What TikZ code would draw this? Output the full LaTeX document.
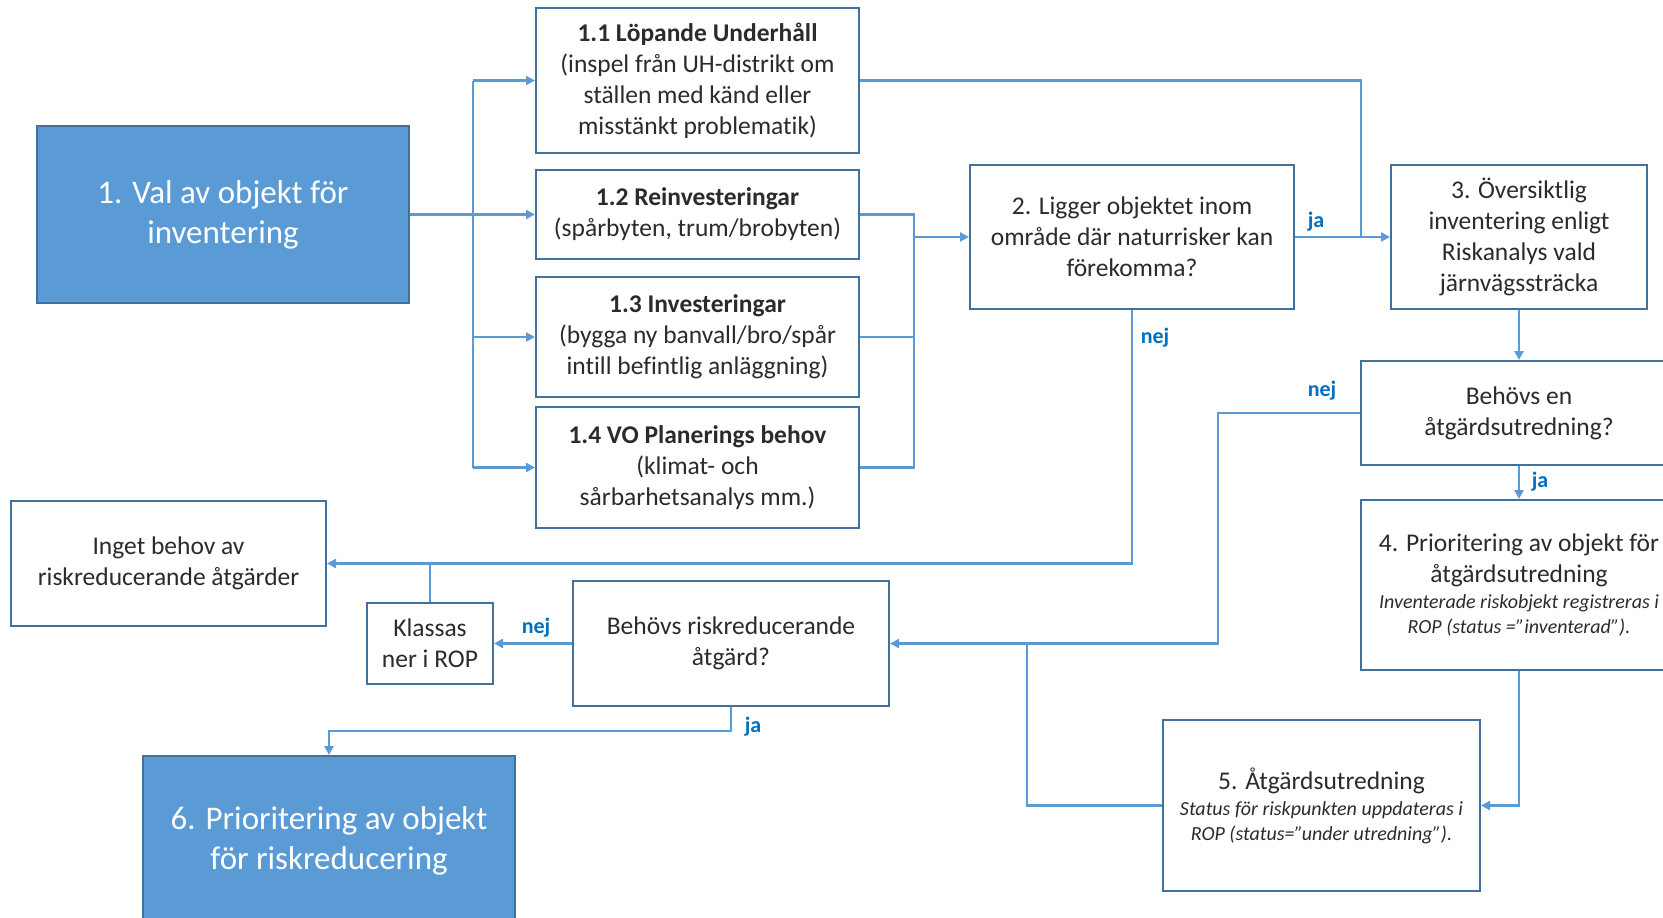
\documentclass[tikz,border=0pt]{standalone}
\usepackage{fontspec}
\setmainfont[Ligatures={NoCommon}]{Carlito}
\usetikzlibrary{arrows.meta}
\definecolor{linec}{HTML}{5B9BD5}
\definecolor{bordc}{HTML}{41719C}
\definecolor{labc}{HTML}{0070C0}
\definecolor{txtc}{HTML}{2B2B2B}
\begin{document}
\begin{tikzpicture}[x=1pt,y=-1pt,
  box/.style={draw=bordc, line width=2pt, fill=white, align=center, text=txtc, inner sep=0pt, font=\fontsize{25.5}{31}\selectfont},
  bluebox/.style={box, fill=linec, text=white, font=\fontsize{33}{40}\selectfont},
  conn/.style={draw=linec, line width=2.2pt},
  arr/.style={conn, -{Triangle[length=9pt,width=9pt]}},
  lab/.style={text=labc, font=\bfseries\fontsize{22}{24}\selectfont, inner sep=0pt}]
\useasboundingbox (0,0) rectangle (1663,918);
\clip (0,0) rectangle (1663,918);
\fill[white] (0,0) rectangle (1663,918);

% nodes
\node[bluebox, minimum width=372pt, minimum height=177pt] (b1) at (223,214.5) {1. Val av objekt för\\inventering};
\node[box, minimum width=323pt, minimum height=145pt] (b11) at (697.5,80.5) {\textbf{1.1 Löpande Underhåll}\\(inspel från UH-distrikt om\\ställen med känd eller\\misstänkt problematik)};
\node[box, minimum width=323pt, minimum height=89pt] (b12) at (697.5,214.5) {\textbf{1.2 Reinvesteringar}\\(spårbyten, trum/brobyten)};
\node[box, minimum width=323pt, minimum height=120pt] (b13) at (697.5,337) {\textbf{1.3 Investeringar}\\(bygga ny banvall/bro/spår\\intill befintlig anläggning)};
\node[box, minimum width=323pt, minimum height=121pt] (b14) at (697.5,467.5) {\textbf{1.4 VO Planerings behov}\\(klimat- och\\sårbarhetsanalys mm.)};
\node[box, minimum width=324pt, minimum height=144pt] (b2) at (1132,237) {2. Ligger objektet inom\\område där naturrisker kan\\förekomma?};
\node[box, minimum width=256pt, minimum height=144pt] (b3) at (1519,237) {3. Översiktlig\\inventering enligt\\Riskanalys vald\\järnvägssträcka};
\node[box, minimum width=316pt, minimum height=104pt] (bq1) at (1519,413) {Behövs en\\åtgärdsutredning?};
\node[box, minimum width=316pt, minimum height=170pt] (b4) at (1519,585) {4. Prioritering av objekt för\\åtgärdsutredning\\[-5pt]{\fontsize{20}{25}\selectfont\itshape Inventerade riskobjekt registreras i}\\[-6pt]{\fontsize{20}{25}\selectfont\itshape ROP (status =”inventerad”).}};
\node[box, minimum width=317pt, minimum height=171pt] (b5) at (1321.5,805.5) {5. Åtgärdsutredning\\[-5pt]{\fontsize{20}{25}\selectfont\itshape Status för riskpunkten uppdateras i}\\[-6pt]{\fontsize{20}{25}\selectfont\itshape ROP (status=”under utredning”).}};
\node[box, minimum width=315pt, minimum height=125pt] (binget) at (168.5,563.5) {Inget behov av\\riskreducerande åtgärder};
\node[box, minimum width=126pt, minimum height=81pt] (bklass) at (430,643.5) {Klassas\\ner i ROP};
\node[box, minimum width=316pt, minimum height=125pt] (bq2) at (731,643.5) {Behövs riskreducerande\\åtgärd?};
\node[bluebox, minimum width=372pt, minimum height=170pt] (b6) at (329,841) {6. Prioritering av objekt\\för riskreducering};

% bus coordinates
\coordinate (lb) at (473,0);
\coordinate (rb) at (914,0);
\coordinate (jx) at (1361,0);
\coordinate (nx) at (1218,0);
\coordinate (ux) at (1027,0);
\coordinate (jy) at (0,731);

% connectors
\draw[conn] (b1.east) -- (b1.east -| lb);
\draw[conn] (lb |- b11.west) -- (lb |- b14.west);
\draw[arr] (lb |- b11.west) -- (b11.west);
\draw[arr] (lb |- b12.west) -- (b12.west);
\draw[arr] (lb |- b13.west) -- (b13.west);
\draw[arr] (lb |- b14.west) -- (b14.west);

\draw[conn] (b12.east) -| (rb |- b14.east) -- (b14.east);
\draw[conn] (b13.east) -- (b13.east -| rb);
\draw[arr] (rb |- b2.west) -- (b2.west);

\draw[conn] (b11.east) -| (jx |- b3.west);
\draw[arr] (b2.east) -- (b3.west);
\node[lab] (lja1) at (1316,222) {ja};

\draw[arr] (b2.south) |- (binget.east);
\node[lab] (lnej1) at (1155,338) {nej};
\draw[conn] (bklass.north) -- (bklass.north |- binget.east);

\draw[arr] (b3.south) -- (bq1.north);
\draw[arr] (bq1.south) -- (b4.north);
\node[lab] (lja2) at (1540,482) {ja};

\draw[arr] (bq1.west) -| (nx |- bq2.east) -- (bq2.east);
\node[lab] (lnej2) at (1322,391) {nej};

\draw[arr] (b4.south) |- (b5.east);
\draw[conn] (b5.west) -| (ux |- bq2.east);

\draw[arr] (bq2.west) -- (bklass.east);
\node[lab] (lnej3) at (536,628) {nej};

\draw[arr] (bq2.south) -- (bq2.south |- jy) -| (b6.north);
\node[lab] (lja3) at (753,727) {ja};
\end{tikzpicture}
\end{document}
